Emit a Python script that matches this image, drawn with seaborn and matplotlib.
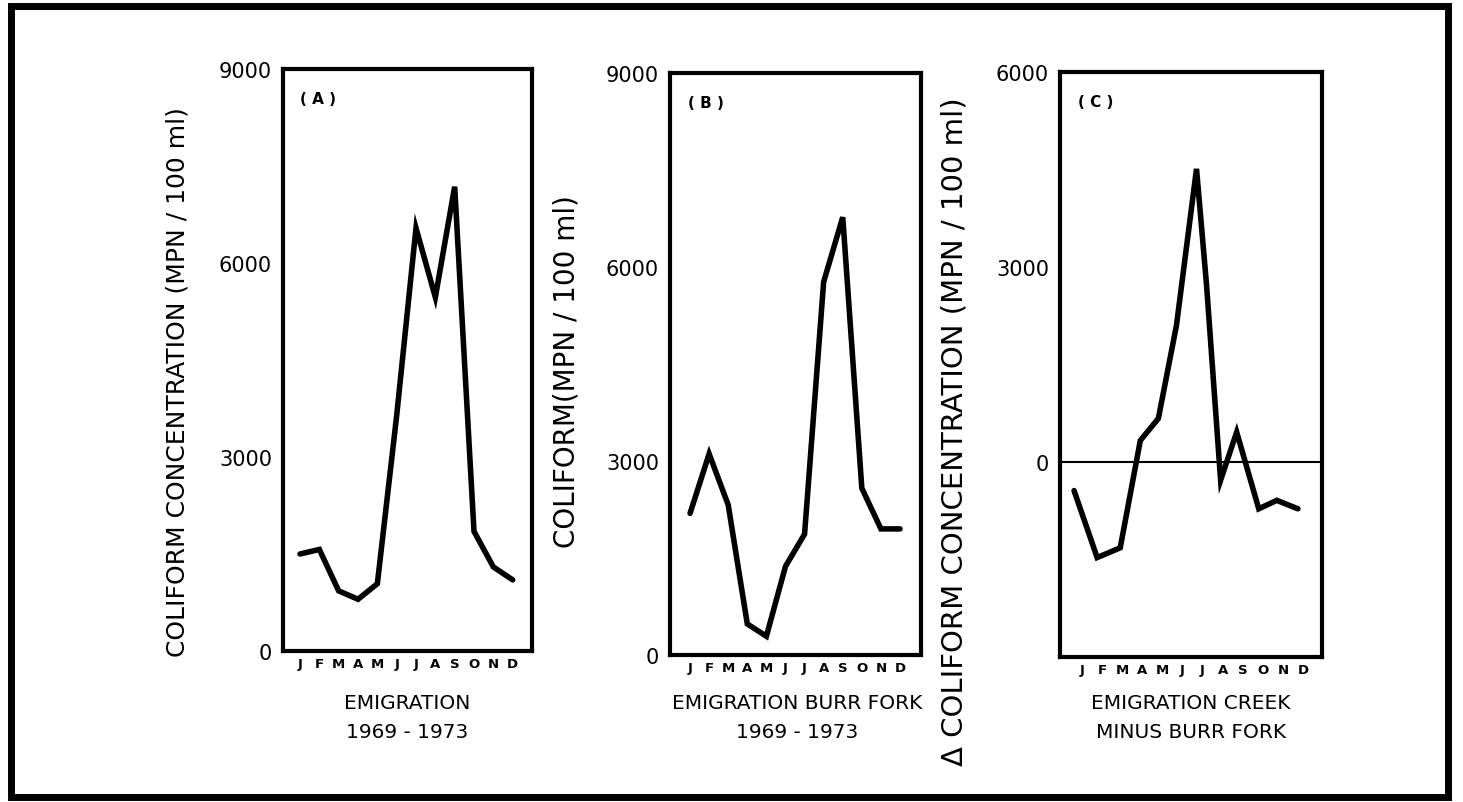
import matplotlib
matplotlib.use('Agg')
import matplotlib.pyplot as plt
import seaborn as sns
import pandas as pd
from matplotlib.patches import Rectangle

# data (monthly means, MPN / 100 ml)
months = ['J', 'F', 'M', 'A', 'M', 'J', 'J', 'A', 'S', 'O', 'N', 'D']
emigration = [1500, 1570, 930, 800, 1040, 3640, 6540, 5470, 7180, 1850, 1300, 1100]
burr_fork = [2190, 3110, 2320, 480, 290, 1370, 1870, 5770, 6770, 2580, 1950, 1950]
# panel C is drawn a bit off the month ticks in the original, so keep its x too
diff_pos = [-0.4, 0.75, 1.9, 2.9, 3.8, 4.7, 5.7, 6.2, 6.9, 7.7, 8.8, 9.7, 10.75]
diff_vals = [-440, -1470, -1320, 330, 670, 2100, 4510, 2720, -280, 460, -720, -590, -720]

sns.set_style('white')
plt.rcParams['font.family'] = ['DejaVu Sans']
plt.rcParams['text.color'] = 'black'

W, H = 1463, 803
fig = plt.figure(figsize=(W / 100, H / 100), dpi=100)


def px_axes(left, top, right, bottom):
    return fig.add_axes([left / W, 1 - bottom / H, (right - left) / W, (bottom - top) / H])


def px_text(x, y, s, **kw):
    fig.text(x / W, 1 - y / H, s, ha='center', va='center', color='black', **kw)


panels = [
    dict(box=(283, 70, 532, 652), xlim=(-0.88, 12.0), ylim=(0, 9000), yticks=[0, 3000, 6000, 9000],
         x=list(range(12)), y=emigration, tag='( A )'),
    dict(box=(670, 74, 921, 656), xlim=(-1.05, 12.1), ylim=(0, 9000), yticks=[0, 3000, 6000, 9000],
         x=list(range(12)), y=burr_fork, tag='( B )'),
    dict(box=(1060, 73, 1322, 658), xlim=(-1.1, 11.95), ylim=(-3000, 6000), yticks=[0, 3000, 6000],
         x=diff_pos, y=diff_vals, tag='( C )'),
]

for p in panels:
    ax = px_axes(*p['box'])
    df = pd.DataFrame({'x': p['x'], 'y': p['y']})
    sns.lineplot(data=df, x='x', y='y', ax=ax, color='black', lw=4, sort=False,
                 solid_joinstyle='miter')
    ax.set_xlim(*p['xlim'])
    ax.set_ylim(*p['ylim'])
    ax.set_xticks(range(12))
    ax.set_xticklabels(months, fontsize=9.5, fontweight='bold')
    ax.set_yticks(p['yticks'])
    ax.set_yticklabels([str(v) for v in p['yticks']], fontsize=15)
    ax.tick_params(axis='x', direction='in', length=10, width=1.5, pad=4, colors='black')
    ax.tick_params(axis='y', direction='in', length=12, width=1.5, pad=8, colors='black')
    ax.set_xlabel('')
    ax.set_ylabel('')
    for s in ax.spines.values():
        s.set_linewidth(3)
        s.set_color('black')
    ax.text(0.07, 0.95, p['tag'], transform=ax.transAxes, fontsize=11, fontweight='bold',
            ha='left', va='center', color='black')
    if p['ylim'][0] < 0:
        ax.axhline(0, color='black', lw=1.5)

# axis titles (rotated, as in the original)
px_text(178, 382, 'COLIFORM CONCENTRATION (MPN / 100 ml)', rotation=90, fontsize=18)
px_text(566, 372, 'COLIFORM(MPN / 100 ml)', rotation=90, fontsize=20)
px_text(955, 432, '\u0394 COLIFORM CONCENTRATION (MPN / 100 ml)', rotation=90, fontsize=21)

px_text(407, 704, 'EMIGRATION', fontsize=14.5)
px_text(407, 733, '1969 - 1973', fontsize=14.5)
px_text(797, 704, 'EMIGRATION BURR FORK', fontsize=14.5)
px_text(797, 733, '1969 - 1973', fontsize=14.5)
px_text(1191, 704, 'EMIGRATION CREEK', fontsize=14.5)
px_text(1191, 733, 'MINUS BURR FORK', fontsize=14.5)

# outer frame of the scanned figure
fig.patches.append(Rectangle((11 / W, 1 - 798 / H), (1448 - 11) / W, (798 - 7) / H,
                             transform=fig.transFigure, fill=False, edgecolor='black', lw=5))

fig.savefig('out.png', dpi=100)
